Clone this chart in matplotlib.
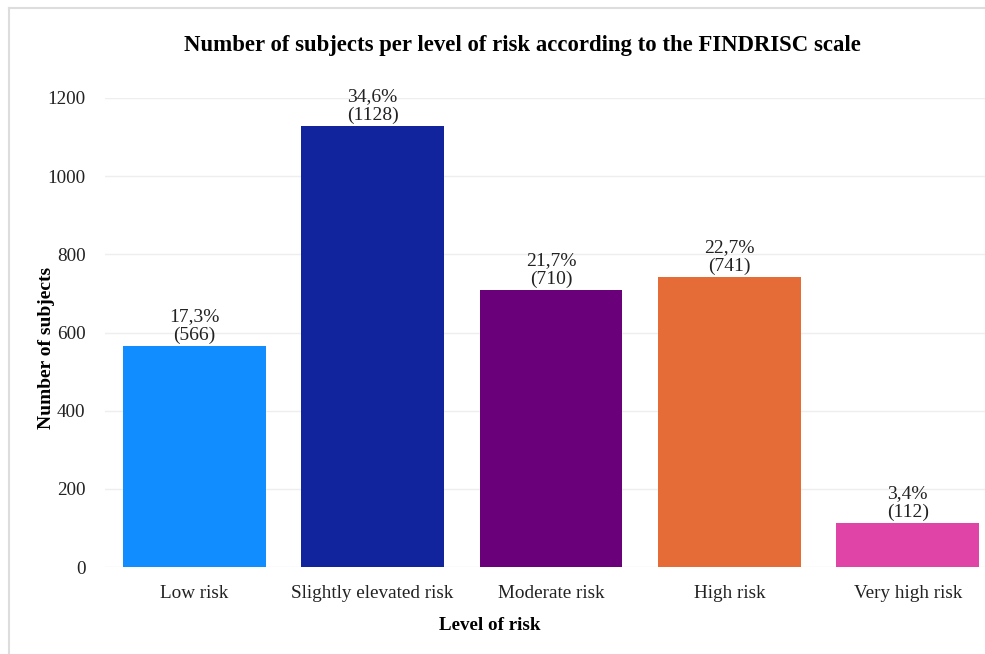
import matplotlib.pyplot as plt
from matplotlib.lines import Line2D

# FINDRISC risk levels
levels = ["Low risk", "Slightly elevated risk", "Moderate risk", "High risk", "Very high risk"]
counts = [566, 1128, 710, 741, 112]
percents = [17.3, 34.6, 21.7, 22.7, 3.4]
colors = ["#118DFF", "#12239E", "#6B007B", "#E66C37", "#E044A7"]

plt.rcParams["font.family"] = ["Liberation Serif", "DejaVu Serif"]

fig = plt.figure(figsize=(9.85, 6.54), dpi=100, facecolor="white")
ax = fig.add_axes([105 / 985, 1 - 567 / 654, 892 / 985, 469 / 654])

x = range(len(levels))
bars = ax.bar(x, counts, width=0.8, color=colors, zorder=3)

for b, n, p in zip(bars, counts, percents):
    lbl = f"{p:.1f}%".replace(".", ",") + f"\n({n})"
    ax.text(b.get_x() + b.get_width() / 2, n + 5, lbl, ha="center", va="bottom",
            fontsize=14, linespacing=1.12, color="#222222", clip_on=False)

ax.set_xlim(-0.5, len(levels) - 0.5)
ax.set_ylim(0, 1200)
ax.set_yticks(range(0, 1201, 200))
ax.set_xticks(list(x))
ax.set_xticklabels(levels)
ax.tick_params(axis="both", length=0, labelsize=13.8, colors="#222222")
ax.tick_params(axis="y", pad=14)
ax.tick_params(axis="x", pad=13)
ax.grid(axis="y", color="#eeeeee", linewidth=1, zorder=0)
for s in ax.spines.values():
    s.set_visible(False)

fig.text(522 / 985, 1 - 45 / 654, "Number of subjects per level of risk according to the FINDRISC scale",
         ha="center", va="center", fontsize=16.4, fontweight="bold")
fig.text(490 / 985, 1 - 625 / 654, "Level of risk", ha="center", va="center",
         fontsize=13.7, fontweight="bold")
fig.text(47 / 985, 1 - 348 / 654, "Number of subjects", ha="center", va="center",
         rotation=90, fontsize=14, fontweight="bold")

# thin frame lines along the top and left edges
fig.add_artist(Line2D([9 / 985, 9 / 985], [0, 1 - 8 / 654], transform=fig.transFigure,
                      color="#dddddd", linewidth=1.5))
fig.add_artist(Line2D([9 / 985, 1], [1 - 8 / 654, 1 - 8 / 654], transform=fig.transFigure,
                      color="#dddddd", linewidth=1.5))

fig.savefig("out.png", dpi=100, facecolor="white")
